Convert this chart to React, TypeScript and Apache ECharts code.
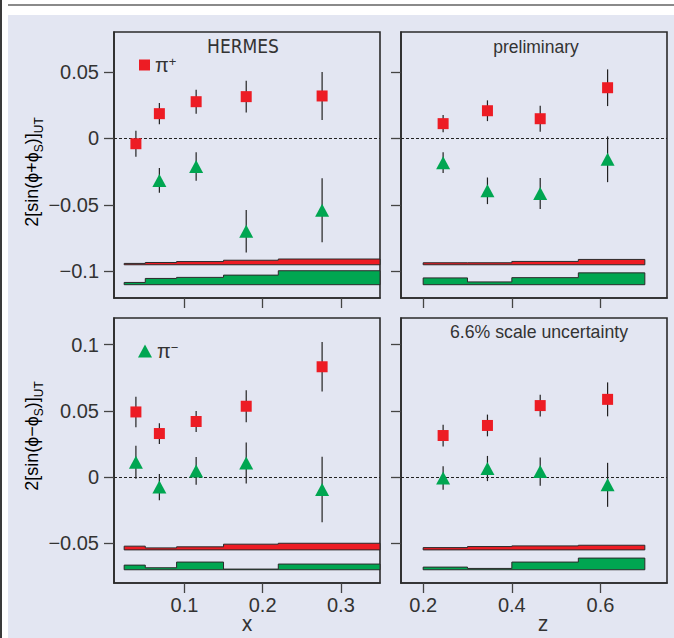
import React, { useEffect, useRef } from 'react';
import * as echarts from 'echarts';

const RED = '#ed1c24';
const GREEN = '#00a651';
const INK = '#333333';
const FONT = '"Liberation Sans", Arial, sans-serif';
const NARROW = '"Liberation Sans Narrow", "DejaVu Sans Condensed", sans-serif';

// kinematic points and bins
const xPoints = [0.038, 0.068, 0.115, 0.179, 0.276];
const xBinEdges = [0.023, 0.05, 0.09, 0.15, 0.22, 0.4];
const zPoints = [0.245, 0.345, 0.464, 0.616];
const zBinEdges = [0.2, 0.3, 0.4, 0.55, 0.7];

// tick labels
const xTicks = [0.1, 0.2, 0.3];
const zTicks = [0.2, 0.4, 0.6];
const yTicksTop = [-0.1, -0.05, 0, 0.05];
const yTicksBottom = [-0.05, 0, 0.05, 0.1];

// top row: 2<sin(phi+phiS)>_UT
const sumXPiPlus = [-0.004, 0.0186, 0.0276, 0.0314, 0.0319];
const sumXPiPlusErr = [0.0098, 0.008, 0.009, 0.012, 0.018];
const sumXPiMinus = [null, -0.0316, -0.0212, -0.0698, -0.054];
const sumXPiMinusErr = [null, 0.0093, 0.0107, 0.016, 0.024];
const sumZPiPlus = [0.0111, 0.0208, 0.0148, 0.0381];
const sumZPiPlusErr = [0.0065, 0.0078, 0.0098, 0.0138];
const sumZPiMinus = [-0.0183, -0.0394, -0.0414, -0.0157];
const sumZPiMinusErr = [0.0078, 0.01, 0.0117, 0.0172];

// bottom row: 2<sin(phi-phiS)>_UT
const diffXPiPlus = [0.0491, 0.0328, 0.0419, 0.0534, 0.0832];
const diffXPiPlusErr = [0.0115, 0.0078, 0.0079, 0.012, 0.0187];
const diffXPiMinus = [0.0111, -0.0076, 0.0046, 0.0106, -0.0095];
const diffXPiMinusErr = [0.0125, 0.0099, 0.0105, 0.0155, 0.0247];
const diffZPiPlus = [0.0313, 0.0389, 0.0539, 0.0586];
const diffZPiPlusErr = [0.0082, 0.0082, 0.0082, 0.0128];
const diffZPiMinus = [-0.0008, 0.0064, 0.0041, -0.0059];
const diffZPiMinusErr = [0.0089, 0.0095, 0.0107, 0.0166];

// systematic uncertainty bands (heights per bin) and their base lines
const sumXSysPlus = [0.001, 0.0017, 0.0024, 0.0034, 0.0043];
const sumXSysMinus = [0.0017, 0.0047, 0.0055, 0.0072, 0.0105];
const sumZSysPlus = [0.0015, 0.0015, 0.0025, 0.004];
const sumZSysMinus = [0.0051, 0.0021, 0.0053, 0.0089];
const diffXSysPlus = [0.0028, 0.0015, 0.0023, 0.0043, 0.005];
const diffXSysMinus = [0.0035, 0.0015, 0.0058, 0.0005, 0.0043];
const diffZSysPlus = [0.0017, 0.0025, 0.003, 0.0035];
const diffZSysMinus = [0.002, 0.001, 0.0058, 0.0088];
const topBandBase = [-0.095, -0.11];
const bottomBandBase = [-0.055, -0.07];

const fmt = (v: number) => (v < 0 ? '\u2212' + String(Math.abs(v)) : String(v));

function bandSeries(gi: number, edges: number[], heights: number[], base: number, color: string) {
  return {
    type: 'custom',
    xAxisIndex: gi,
    yAxisIndex: gi,
    z: 2,
    silent: true,
    data: [[edges[0], base]],
    renderItem: (params: any, api: any) => {
      const cs = params.coordSys;
      const cx = (px: number) => Math.max(cs.x, Math.min(cs.x + cs.width, px));
      const pts: number[][] = [];
      const p0 = api.coord([edges[0], base]);
      pts.push([cx(p0[0]), p0[1]]);
      heights.forEach((h, i) => {
        const a = api.coord([edges[i], base + h]);
        const b = api.coord([edges[i + 1], base + h]);
        pts.push([cx(a[0]), a[1]]);
        pts.push([cx(b[0]), b[1]]);
      });
      const pe = api.coord([edges[edges.length - 1], base]);
      pts.push([cx(pe[0]), pe[1]]);
      return {
        type: 'polygon',
        shape: { points: pts },
        style: { fill: color, stroke: '#2a2a2a', lineWidth: 1 },
      };
    },
  };
}

function errSeries(gi: number, xs: number[], vals: (number | null)[], errs: (number | null)[]) {
  const data = xs
    .map((x, i) => (vals[i] == null ? null : [x, vals[i], errs[i]]))
    .filter((d) => d != null);
  return {
    type: 'custom',
    xAxisIndex: gi,
    yAxisIndex: gi,
    z: 3,
    silent: true,
    data,
    encode: { x: 0, y: 1 },
    renderItem: (params: any, api: any) => {
      const x = api.value(0);
      const v = api.value(1);
      const e = api.value(2);
      const a = api.coord([x, v - e]);
      const b = api.coord([x, v + e]);
      return {
        type: 'line',
        shape: { x1: a[0], y1: a[1], x2: b[0], y2: b[1] },
        style: { stroke: '#222', lineWidth: 1.2 },
      };
    },
  };
}

function scatterSeries(gi: number, name: string, xs: number[], vals: (number | null)[], plus: boolean, zeroLine: boolean) {
  const data = xs.map((x, i) => [x, vals[i]]).filter((d) => d[1] != null);
  const s: any = {
    type: 'scatter',
    name,
    xAxisIndex: gi,
    yAxisIndex: gi,
    z: 5,
    silent: true,
    symbol: plus ? 'rect' : 'triangle',
    symbolSize: plus ? 11 : [14, 13],
    itemStyle: { color: plus ? RED : GREEN, opacity: 1 },
    data,
  };
  if (zeroLine) {
    s.markLine = {
      silent: true,
      symbol: ['none', 'none'],
      label: { show: false },
      lineStyle: { color: '#222', type: [3, 2], width: 1 },
      data: [{ yAxis: 0 }],
    };
  }
  return s;
}

const App: React.FC = () => {
  const ref = useRef<HTMLDivElement>(null);

  useEffect(() => {
    if (!ref.current) return;
    const chart = echarts.init(ref.current, undefined, { renderer: 'svg' });

    const grids = [
      { left: 114, top: 32, width: 266, height: 266 },
      { left: 401, top: 32, width: 266, height: 266 },
      { left: 114, top: 318, width: 266, height: 265 },
      { left: 401, top: 318, width: 266, height: 265 },
    ].map((g) => ({ ...g, show: true, borderColor: '#2b2b2b', borderWidth: 1.6, backgroundColor: 'transparent' }));

    const labelStyle = { fontFamily: FONT, fontSize: 20, color: INK };
    const tickStyle = { color: '#444', width: 1.3 };
    const lineStyle = { color: '#2b2b2b', width: 1.6 };

    const xAxis = [0, 1, 2, 3].map((i) => {
      const isX = i % 2 === 0;
      const ticks = isX ? xTicks : zTicks;
      return {
        type: 'value',
        gridIndex: i,
        position: 'bottom',
        min: isX ? 0.01 : 0.15,
        max: isX ? 0.35 : 0.75,
        axisLine: { show: true, onZero: false, lineStyle },
        splitLine: { show: false },
        axisTick: { show: true, inside: false, length: 10, customValues: ticks, lineStyle: tickStyle },
        axisLabel: { show: i >= 2, customValues: ticks, margin: 12, formatter: fmt, ...labelStyle },
      };
    });

    const yAxis = [0, 1, 2, 3].map((i) => {
      const top = i < 2;
      const ticks = top ? yTicksTop : yTicksBottom;
      return {
        type: 'value',
        gridIndex: i,
        position: 'left',
        min: top ? -0.12 : -0.08,
        max: top ? 0.08 : 0.12,
        axisLine: { show: true, onZero: false, lineStyle },
        splitLine: { show: false },
        axisTick: { show: true, inside: false, length: 10, customValues: ticks, lineStyle: tickStyle },
        axisLabel: { show: i % 2 === 0, customValues: ticks, margin: 15, formatter: fmt, ...labelStyle },
      };
    });

    const series: any[] = [
      // grid 0: sum, x
      bandSeries(0, xBinEdges, sumXSysPlus, topBandBase[0], RED),
      bandSeries(0, xBinEdges, sumXSysMinus, topBandBase[1], GREEN),
      errSeries(0, xPoints, sumXPiPlus, sumXPiPlusErr),
      errSeries(0, xPoints, sumXPiMinus, sumXPiMinusErr),
      scatterSeries(0, '\u03c0+', xPoints, sumXPiPlus, true, true),
      scatterSeries(0, '\u03c0\u2212', xPoints, sumXPiMinus, false, false),
      // grid 1: sum, z
      bandSeries(1, zBinEdges, sumZSysPlus, topBandBase[0], RED),
      bandSeries(1, zBinEdges, sumZSysMinus, topBandBase[1], GREEN),
      errSeries(1, zPoints, sumZPiPlus, sumZPiPlusErr),
      errSeries(1, zPoints, sumZPiMinus, sumZPiMinusErr),
      scatterSeries(1, '\u03c0+', zPoints, sumZPiPlus, true, true),
      scatterSeries(1, '\u03c0\u2212', zPoints, sumZPiMinus, false, false),
      // grid 2: diff, x
      bandSeries(2, xBinEdges, diffXSysPlus, bottomBandBase[0], RED),
      bandSeries(2, xBinEdges, diffXSysMinus, bottomBandBase[1], GREEN),
      errSeries(2, xPoints, diffXPiPlus, diffXPiPlusErr),
      errSeries(2, xPoints, diffXPiMinus, diffXPiMinusErr),
      scatterSeries(2, '\u03c0+', xPoints, diffXPiPlus, true, true),
      scatterSeries(2, '\u03c0\u2212', xPoints, diffXPiMinus, false, false),
      // grid 3: diff, z
      bandSeries(3, zBinEdges, diffZSysPlus, bottomBandBase[0], RED),
      bandSeries(3, zBinEdges, diffZSysMinus, bottomBandBase[1], GREEN),
      errSeries(3, zPoints, diffZPiPlus, diffZPiPlusErr),
      errSeries(3, zPoints, diffZPiMinus, diffZPiMinusErr),
      scatterSeries(3, '\u03c0+', zPoints, diffZPiPlus, true, true),
      scatterSeries(3, '\u03c0\u2212', zPoints, diffZPiMinus, false, false),
    ];

    const legendRich = {
      a: { fontFamily: FONT, fontSize: 20, color: INK, lineHeight: 20, verticalAlign: 'bottom' },
      b: { fontFamily: FONT, fontSize: 13, color: INK, lineHeight: 13, verticalAlign: 'top', padding: [0, 0, 6, 0] },
    };

    const yRich = {
      m: { fontFamily: FONT, fontSize: 18, color: INK, lineHeight: 22, verticalAlign: 'top' },
      s: { fontFamily: FONT, fontSize: 12, color: INK, lineHeight: 12, verticalAlign: 'top', padding: [10, 0, 0, 0] },
    };

    const option: any = {
      animation: false,
      textStyle: { fontFamily: FONT },
      grid: grids,
      xAxis,
      yAxis,
      legend: [
        {
          data: [{ name: '\u03c0+', icon: 'rect' }],
          left: 134,
          top: 50,
          itemWidth: 11,
          itemHeight: 11,
          selectedMode: false,
          formatter: () => '{a|\u03c0}{b|+}',
          textStyle: { rich: legendRich },
        },
        {
          data: [{ name: '\u03c0\u2212', icon: 'triangle' }],
          left: 133,
          top: 336,
          itemWidth: 14,
          itemHeight: 13,
          selectedMode: false,
          formatter: () => '{a|\u03c0}{b|\u2212}',
          textStyle: { rich: legendRich },
        },
      ],
      graphic: {
        elements: [
          { type: 'rect', z: -100, silent: true, shape: { x: 8, y: 15, width: 666, height: 623 }, style: { fill: '#e3e6f2' } },
          { type: 'rect', z: -100, silent: true, shape: { x: 8, y: 4, width: 666, height: 2 }, style: { fill: '#8a8a8a' } },
          { type: 'rect', z: -100, silent: true, shape: { x: 0, y: 0, width: 2, height: 638 }, style: { fill: '#3a3a3a' } },
          {
            type: 'text', x: 243, y: 46, silent: true,
            style: { text: 'HERMES', font: '19px ' + NARROW, fill: INK, align: 'center', verticalAlign: 'middle' },
          },
          {
            type: 'text', x: 536, y: 47, silent: true,
            style: { text: 'preliminary', font: '17.5px ' + FONT, fill: INK, align: 'center', verticalAlign: 'middle' },
          },
          {
            type: 'text', x: 539, y: 332, silent: true,
            style: { text: '6.6% scale uncertainty', font: '17.7px ' + FONT, fill: INK, align: 'center', verticalAlign: 'middle' },
          },
          {
            type: 'text', x: 247, y: 624, silent: true,
            style: { text: 'x', font: '21px ' + NARROW, fill: INK, align: 'center', verticalAlign: 'middle' },
          },
          {
            type: 'text', x: 543, y: 624, silent: true,
            style: { text: 'z', font: '21px ' + NARROW, fill: INK, align: 'center', verticalAlign: 'middle' },
          },
          {
            type: 'text', x: 34, y: 172, rotation: Math.PI / 2, silent: true,
            style: {
              text: '{m|2[sin(\u03d5+\u03d5}{s|S}{m|)]}{s|UT}',
              rich: yRich, align: 'center', verticalAlign: 'middle',
            },
          },
          {
            type: 'text', x: 34, y: 436, rotation: Math.PI / 2, silent: true,
            style: {
              text: '{m|2[sin(\u03d5\u2212\u03d5}{s|S}{m|)]}{s|UT}',
              rich: yRich, align: 'center', verticalAlign: 'middle',
            },
          },
        ],
      },
      series,
    };

    chart.setOption(option);
    return () => {
      chart.dispose();
    };
  }, []);

  return (
    <div
      ref={ref}
      style={{ position: 'fixed', left: 0, top: 0, width: 674, height: 638, background: '#fff' }}
    />
  );
};

export default App;
